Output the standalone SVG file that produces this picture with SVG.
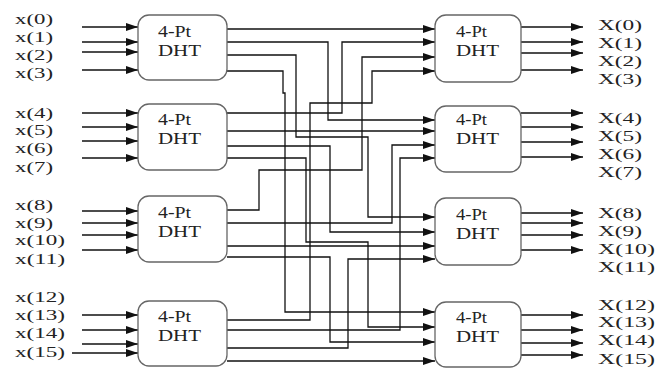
<svg xmlns="http://www.w3.org/2000/svg" width="656" height="369" viewBox="0 0 656 369">
<defs>
<marker id="ah" markerUnits="userSpaceOnUse" markerWidth="12" markerHeight="8" refX="12" refY="4" orient="auto"><path d="M0,0 L12,4 L0,8 z" fill="#111"/></marker>
<style>
.box{fill:#fff;stroke:#666;stroke-width:1.3}
.w{fill:none;stroke:#111;stroke-width:1.3;marker-end:url(#ah)}
.t{font-family:"Liberation Serif","Times New Roman",serif;font-size:16px;fill:#222}
.l{font-family:"Liberation Serif","Times New Roman",serif;font-size:15px;fill:#222}
</style>
</defs>
<rect width="656" height="369" fill="#fff"/>

<g id="connectors">
  <!-- inputs -->
  <path class="w" d="M82,27 H138"/><path class="w" d="M82,42 H138"/><path class="w" d="M82,52 H138"/><path class="w" d="M82,70 H138"/>
  <path class="w" d="M82,113 H138"/><path class="w" d="M82,127 H138"/><path class="w" d="M82,141 H138"/><path class="w" d="M82,158 H138"/>
  <path class="w" d="M82,211 H138"/><path class="w" d="M82,223 H138"/><path class="w" d="M82,235 H138"/><path class="w" d="M82,250 H138"/>
  <path class="w" d="M82,315 H138"/><path class="w" d="M82,330 H138"/><path class="w" d="M82,344 H138"/><path class="w" d="M72,353 H138"/>
  <!-- outputs -->
  <path class="w" d="M521,27 H583"/><path class="w" d="M521,42 H583"/><path class="w" d="M521,53 H583"/><path class="w" d="M521,70 H583"/>
  <path class="w" d="M521,113 H583"/><path class="w" d="M521,127 H583"/><path class="w" d="M521,142 H583"/><path class="w" d="M521,157 H583"/>
  <path class="w" d="M521,213 H583"/><path class="w" d="M521,223 H583"/><path class="w" d="M521,235 H583"/><path class="w" d="M521,250 H583"/>
  <path class="w" d="M521,315 H583"/><path class="w" d="M521,330 H583"/><path class="w" d="M521,343 H583"/><path class="w" d="M521,355 H583"/>
  <!-- butterfly wiring -->
  <path class="w" d="M227,29 H435"/>
  <path class="w" d="M227,42 H328 V120 H435"/>
  <path class="w" d="M227,55 H296 V137 H368 V217 H435"/>
  <path class="w" d="M227,71 H283 V93 H285 V312 H435"/>
  <path class="w" d="M227,113 H342 V42 H435"/>
  <path class="w" d="M227,131 H435"/>
  <path class="w" d="M227,146 H330 V232 H435"/>
  <path class="w" d="M227,158 H306 V242 H368 V327 H435"/>
  <path class="w" d="M227,210 H259 V170 H362 V57 H435"/>
  <path class="w" d="M227,223 H392 V145 H435"/>
  <path class="w" d="M227,246 H435"/>
  <path class="w" d="M227,257 H330 V342 H435"/>
  <path class="w" d="M227,320 H310 V103 H372 V71 H435"/>
  <path class="w" d="M227,330 H400 V158 H435"/>
  <path class="w" d="M227,348 H348 V259 H435"/>
  <path class="w" d="M227,361 H435"/>
</g>

<g id="L1"><rect class="box" x="138" y="15" width="89" height="65" rx="11"/><text class="t" x="158" y="37" textLength="33" lengthAdjust="spacingAndGlyphs">4-Pt</text><text class="t" x="158" y="56" textLength="43" lengthAdjust="spacingAndGlyphs">DHT</text></g>
<g id="L2"><rect class="box" x="138" y="104" width="89" height="66" rx="11"/><text class="t" x="158" y="125" textLength="33" lengthAdjust="spacingAndGlyphs">4-Pt</text><text class="t" x="158" y="144" textLength="43" lengthAdjust="spacingAndGlyphs">DHT</text></g>
<g id="L3"><rect class="box" x="138" y="196" width="89" height="66" rx="11"/><text class="t" x="158" y="218" textLength="33" lengthAdjust="spacingAndGlyphs">4-Pt</text><text class="t" x="158" y="237" textLength="43" lengthAdjust="spacingAndGlyphs">DHT</text></g>
<g id="L4"><rect class="box" x="138" y="301" width="89" height="65" rx="11"/><text class="t" x="158" y="322" textLength="33" lengthAdjust="spacingAndGlyphs">4-Pt</text><text class="t" x="158" y="341" textLength="43" lengthAdjust="spacingAndGlyphs">DHT</text></g>

<g id="R1"><rect class="box" x="435" y="15" width="86" height="67" rx="11"/><text class="t" x="456" y="37" textLength="31" lengthAdjust="spacingAndGlyphs">4-Pt</text><text class="t" x="456" y="56" textLength="43" lengthAdjust="spacingAndGlyphs">DHT</text></g>
<g id="R2"><rect class="box" x="435" y="106" width="86" height="66" rx="11"/><text class="t" x="456" y="125" textLength="31" lengthAdjust="spacingAndGlyphs">4-Pt</text><text class="t" x="456" y="144" textLength="43" lengthAdjust="spacingAndGlyphs">DHT</text></g>
<g id="R3"><rect class="box" x="435" y="198" width="86" height="67" rx="11"/><text class="t" x="456" y="220" textLength="31" lengthAdjust="spacingAndGlyphs">4-Pt</text><text class="t" x="456" y="239" textLength="43" lengthAdjust="spacingAndGlyphs">DHT</text></g>
<g id="R4"><rect class="box" x="435" y="302" width="86" height="65" rx="11"/><text class="t" x="456" y="323" textLength="31" lengthAdjust="spacingAndGlyphs">4-Pt</text><text class="t" x="456" y="342" textLength="43" lengthAdjust="spacingAndGlyphs">DHT</text></g>

<g id="inputs">
  <text class="l" x="15" y="24" textLength="38" lengthAdjust="spacingAndGlyphs">x(0)</text>
  <text class="l" x="15" y="42" textLength="38" lengthAdjust="spacingAndGlyphs">x(1)</text>
  <text class="l" x="15" y="60" textLength="38" lengthAdjust="spacingAndGlyphs">x(2)</text>
  <text class="l" x="15" y="78" textLength="38" lengthAdjust="spacingAndGlyphs">x(3)</text>
  <text class="l" x="15" y="118" textLength="38" lengthAdjust="spacingAndGlyphs">x(4)</text>
  <text class="l" x="15" y="135" textLength="38" lengthAdjust="spacingAndGlyphs">x(5)</text>
  <text class="l" x="15" y="153" textLength="38" lengthAdjust="spacingAndGlyphs">x(6)</text>
  <text class="l" x="15" y="172" textLength="38" lengthAdjust="spacingAndGlyphs">x(7)</text>
  <text class="l" x="15" y="210" textLength="38" lengthAdjust="spacingAndGlyphs">x(8)</text>
  <text class="l" x="15" y="228" textLength="38" lengthAdjust="spacingAndGlyphs">x(9)</text>
  <text class="l" x="15" y="245" textLength="50" lengthAdjust="spacingAndGlyphs">x(10)</text>
  <text class="l" x="15" y="264" textLength="50" lengthAdjust="spacingAndGlyphs">x(11)</text>
  <text class="l" x="15" y="302" textLength="50" lengthAdjust="spacingAndGlyphs">x(12)</text>
  <text class="l" x="15" y="320" textLength="50" lengthAdjust="spacingAndGlyphs">x(13)</text>
  <text class="l" x="15" y="338" textLength="50" lengthAdjust="spacingAndGlyphs">x(14)</text>
  <text class="l" x="15" y="357" textLength="50" lengthAdjust="spacingAndGlyphs">x(15)</text>
</g>

<g id="outputs">
  <text class="l" x="598" y="30" textLength="44" lengthAdjust="spacingAndGlyphs">X(0)</text>
  <text class="l" x="598" y="48" textLength="44" lengthAdjust="spacingAndGlyphs">X(1)</text>
  <text class="l" x="598" y="66" textLength="44" lengthAdjust="spacingAndGlyphs">X(2)</text>
  <text class="l" x="598" y="84" textLength="44" lengthAdjust="spacingAndGlyphs">X(3)</text>
  <text class="l" x="598" y="123" textLength="44" lengthAdjust="spacingAndGlyphs">X(4)</text>
  <text class="l" x="598" y="141" textLength="44" lengthAdjust="spacingAndGlyphs">X(5)</text>
  <text class="l" x="598" y="159" textLength="44" lengthAdjust="spacingAndGlyphs">X(6)</text>
  <text class="l" x="598" y="177" textLength="44" lengthAdjust="spacingAndGlyphs">X(7)</text>
  <text class="l" x="598" y="218" textLength="44" lengthAdjust="spacingAndGlyphs">X(8)</text>
  <text class="l" x="598" y="236" textLength="44" lengthAdjust="spacingAndGlyphs">X(9)</text>
  <text class="l" x="598" y="254" textLength="57" lengthAdjust="spacingAndGlyphs">X(10)</text>
  <text class="l" x="598" y="272" textLength="57" lengthAdjust="spacingAndGlyphs">X(11)</text>
  <text class="l" x="598" y="310" textLength="57" lengthAdjust="spacingAndGlyphs">X(12)</text>
  <text class="l" x="598" y="327" textLength="57" lengthAdjust="spacingAndGlyphs">X(13)</text>
  <text class="l" x="598" y="345" textLength="57" lengthAdjust="spacingAndGlyphs">X(14)</text>
  <text class="l" x="598" y="364" textLength="57" lengthAdjust="spacingAndGlyphs">X(15)</text>
</g>
</svg>
